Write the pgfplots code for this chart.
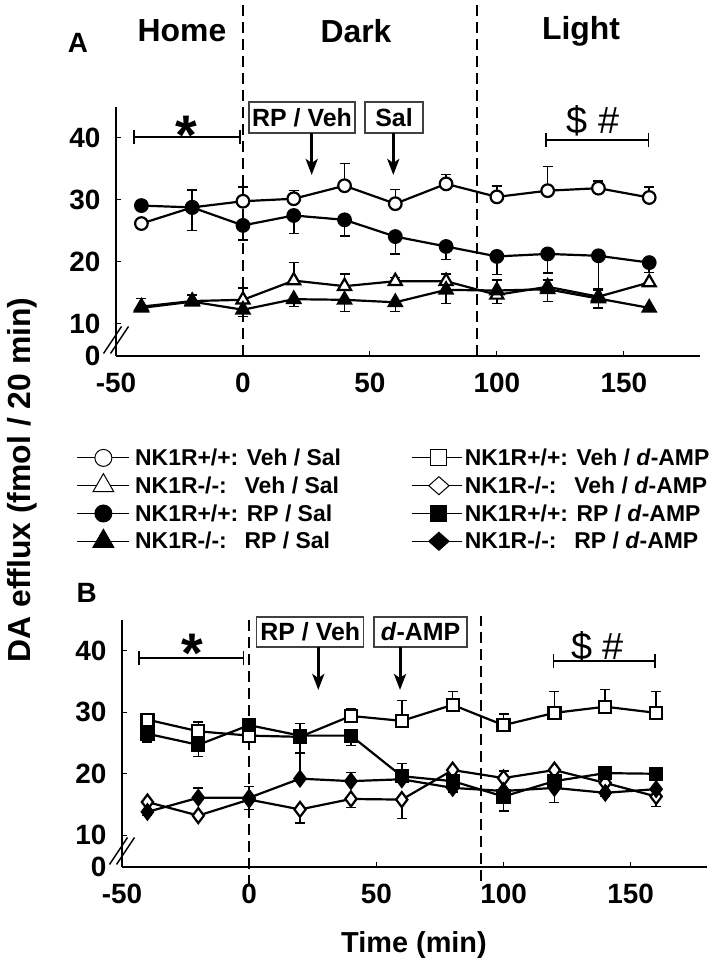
\documentclass[border=0pt]{standalone}
\usepackage{fontspec}
\setmainfont{Liberation Sans}
\usepackage{calc}
\usepackage{pgfplots}
\pgfplotsset{compat=1.18}
\usepackage{pgfplotstable}
\usetikzlibrary{arrows.meta}
\newcommand{\fs}[1]{\fontsize{#1}{#1}\selectfont}

% Panel A
\pgfplotstableread{
x y ep em
-40 26.2 0 0
-20 28.8 0 0
0 29.8 2.3 0
20 30.2 1.3 0
40 32.3 3.6 0
60 29.4 2.3 0
80 32.6 1.5 0
100 30.5 1.8 0
120 31.5 3.9 0
140 31.9 1.2 0
160 30.4 1.7 0
}\AopenC
\pgfplotstableread{
x y ep em
-40 29.1 0 0
-20 28.8 2.8 3.7
0 25.9 0 2.4
20 27.5 0 2.9
40 26.8 0 2.6
60 24.1 0 2.8
80 22.5 0 2.1
100 20.9 0 2.9
120 21.3 0 3.1
140 21.0 0 5.5
160 19.9 0 1.6
}\AfillC
\pgfplotstableread{
x y ep em
-40 12.8 0 0
-20 13.7 1.0 0
0 13.9 1.9 0
20 17.0 2.9 0
40 16.1 2.0 0
60 16.9 0.6 0
80 16.9 1.2 0
100 14.7 0 1.4
120 16.0 0 0
140 14.4 0 0
160 16.7 0 0
}\AopenT
\pgfplotstableread{
x y ep em
-40 12.6 1.5 0
-20 13.6 1.1 0
0 12.3 0 1.1
20 14.0 0 1.2
40 13.9 0 1.9
60 13.5 0 1.5
80 15.5 0 2.2
100 15.4 1.7 0
120 15.6 1.5 2.0
140 14.1 1.5 1.5
160 12.6 0 0
}\AfillT
% Panel B
\pgfplotstableread{
x y ep em
-40 28.8 0.9 0
-20 26.9 1.5 0
0 26.2 0 0
20 26.0 0 0
40 29.4 1.1 0
60 28.6 3.3 0
80 31.2 2.2 0
100 27.9 1.8 0
120 29.9 3.5 0
140 30.9 2.8 0
160 29.9 3.5 0
}\BopenS
\pgfplotstableread{
x y ep em
-40 26.5 0 1.3
-20 24.7 0 1.9
0 27.9 0 0
20 26.2 2.0 2.8
40 26.2 0 1.6
60 19.6 2.1 0
80 18.8 0 0
100 16.3 0 2.4
120 18.8 0 0
140 20.1 0 0
160 20.0 0 0
}\BfillS
\pgfplotstableread{
x y ep em
-40 15.4 0 0
-20 13.2 0 0
0 15.8 0 1.6
20 14.2 0 2.2
40 15.9 0 1.4
60 15.8 0 3.1
80 20.6 0 0
100 19.3 1.1 0
120 20.6 0 0
140 18.5 0 0
160 16.3 0 1.6
}\BopenD
\pgfplotstableread{
x y ep em
-40 13.8 0 0.6
-20 16.1 1.6 0
0 16.1 1.8 0
20 19.2 4.2 0
40 18.8 1.4 0
60 19.1 0 0
80 17.7 0 0.7
100 17.2 0 0
120 17.7 0 2.4
140 16.9 0 0.6
160 17.5 0 0
}\BfillD

\tikzset{dl/.style={dash pattern=on 11bp off 6bp, line width=2bp}}
\pgfplotsset{
  panel/.style={
    scale only axis, anchor=south west,
    xmin=-50, xmax=180, ymin=4.84, ymax=45,
    axis lines=left, axis line style={-, line width=1.4bp},
    xtick={-50,0,50,100,150}, xticklabels={-50,0,50,100,150},
    ytick={10,20,30,40}, yticklabels={10,20,30,40},
    extra y ticks={4.84}, extra y tick labels={0},
    extra y tick style={major tick length=0pt},
    tick align=inside, major tick length=5bp,
    tick style={line width=1bp, black},
    ticklabel style={font=\fs{28}\bfseries},
    xticklabel style={yshift=-14bp},
    yticklabel style={xshift=-12bp},
    clip=false,
    legend style={draw=none, fill=none, inner sep=0pt, row sep=0pt,
      font=\fs{23}\bfseries, anchor=north west,
      nodes={inner sep=0pt, minimum height=27.8bp}},
    legend cell align=left,
  },
  ser/.style={black, line width=2.2bp, mark size=6.3bp,
    mark options={line width=1bp, solid, draw=black}},
  eb/.style={forget plot, only marks, mark=none, black,
    error bars/.cd, y explicit, y dir=#1,
    error bar style={line width=1.6bp, black},
    error mark options={rotate=90, line width=1.6bp, mark size=5bp, black}},
}

\begin{document}
\begin{tikzpicture}[x=1bp, y=1bp]
\useasboundingbox (0,0) rectangle (724,964);

% ---------------- Panel A ----------------
\begin{axis}[panel, at={(116bp,608bp)}, width=584bp, height=249bp,
  legend style={at={(-0.0673,-0.3526)}, column sep=6bp},
  legend image code/.code={\draw[mark repeat=2, mark phase=2, #1]
        plot coordinates {(0bp,0bp) (26bp,0bp) (51.3bp,0bp)};}]
\draw[dl] (axis cs:0,4.84) -- (axis cs:0,62.3);
\draw[dl] (axis cs:92,4.84) -- (axis cs:92,62.3);
\addplot[eb=plus] table[x=x, y=y, y error=ep] {\AopenC};
\addplot[eb=minus] table[x=x, y=y, y error=em] {\AopenC};
\addplot[eb=plus] table[x=x, y=y, y error=ep] {\AfillC};
\addplot[eb=minus] table[x=x, y=y, y error=em] {\AfillC};
\addplot[eb=plus] table[x=x, y=y, y error=ep] {\AopenT};
\addplot[eb=minus] table[x=x, y=y, y error=em] {\AopenT};
\addplot[eb=plus] table[x=x, y=y, y error=ep] {\AfillT};
\addplot[eb=minus] table[x=x, y=y, y error=em] {\AfillT};
\addplot[ser, mark=*, mark options={fill=white},
  legend image post style={line width=1bp, mark size=8.5bp}] table[x=x,y=y] {\AopenC};
\addlegendentry{NK1R+/+: Veh / Sal}
\addplot[ser, mark=triangle*, mark size=7.5bp, mark options={fill=white},
  legend image post style={line width=1bp, mark size=12bp}] table[x=x,y=y] {\AopenT};
\addlegendentry{\makebox[\widthof{NK1R+/+:}][l]{NK1R-/-:} Veh / Sal}
\addplot[ser, mark=*, mark options={fill=black},
  legend image post style={line width=1bp, mark size=8.5bp}] table[x=x,y=y] {\AfillC};
\addlegendentry{NK1R+/+: RP / Sal}
\addplot[ser, mark=triangle*, mark size=7.5bp, mark options={fill=black},
  legend image post style={line width=1bp, mark size=12bp}] table[x=x,y=y] {\AfillT};
\addlegendentry{\makebox[\widthof{NK1R+/+:}][l]{NK1R-/-:} RP / Sal}
\end{axis}

% ---------------- Panel B ----------------
\begin{axis}[panel, at={(122bp,97bp)}, width=585bp, height=247bp,
  legend style={at={(0.4952,1.7134)}, column sep=2bp},
  legend image code/.code={\draw[mark repeat=2, mark phase=2, #1]
        plot coordinates {(0bp,0bp) (26.5bp,0bp) (50bp,0bp)};}]
\draw[dl] (axis cs:0,1.77) -- (axis cs:0,45.6);
\draw[dl] (axis cs:91,2.5) -- (axis cs:91,45.6);
\addplot[eb=plus] table[x=x, y=y, y error=ep] {\BopenS};
\addplot[eb=minus] table[x=x, y=y, y error=em] {\BopenS};
\addplot[eb=plus] table[x=x, y=y, y error=ep] {\BfillS};
\addplot[eb=minus] table[x=x, y=y, y error=em] {\BfillS};
\addplot[eb=plus] table[x=x, y=y, y error=ep] {\BopenD};
\addplot[eb=minus] table[x=x, y=y, y error=em] {\BopenD};
\addplot[eb=plus] table[x=x, y=y, y error=ep] {\BfillD};
\addplot[eb=minus] table[x=x, y=y, y error=em] {\BfillD};
\addplot[ser, mark=square*, mark size=6bp, mark options={fill=white},
  legend image post style={line width=1bp, mark size=8bp}] table[x=x,y=y] {\BopenS};
\addlegendentry{NK1R+/+: Veh / \textit{d}-AMP}
\addplot[ser, mark=diamond*, mark size=7.5bp, mark options={fill=white},
  legend image post style={line width=1bp, mark size=9bp,
    mark options={fill=white, draw=black, line width=1bp, solid, xscale=1.5}}] table[x=x,y=y] {\BopenD};
\addlegendentry{\makebox[\widthof{NK1R+/+:}][l]{NK1R-/-:} Veh / \textit{d}-AMP}
\addplot[ser, mark=square*, mark size=6bp, mark options={fill=black},
  legend image post style={line width=1bp, mark size=8bp}] table[x=x,y=y] {\BfillS};
\addlegendentry{NK1R+/+: RP / \textit{d}-AMP}
\addplot[ser, mark=diamond*, mark size=7.5bp, mark options={fill=black},
  legend image post style={line width=1bp, mark size=9bp,
    mark options={fill=black, draw=black, line width=1bp, solid, xscale=1.5}}] table[x=x,y=y] {\BfillD};
\addlegendentry{\makebox[\widthof{NK1R+/+:}][l]{NK1R-/-:} RP / \textit{d}-AMP}
\end{axis}

% ---------------- Decorations ----------------
\draw[line width=1.4bp] (103.5,610.5) -- (121.5,637.5);
\draw[line width=1.4bp] (110.5,610.5) -- (128.5,637.5);
\draw[line width=1.4bp] (109.5,99.5) -- (127.5,126.5);
\draw[line width=1.4bp] (116.5,99.5) -- (134.5,126.5);
% headings
\node[font=\fs{32}\bfseries] at (182,933) {Home};
\node[font=\fs{32}\bfseries] at (356,933) {Dark};
\node[font=\fs{32}\bfseries] at (581,933) {Light};
\node[font=\fs{28}\bfseries] at (78,921) {A};
\node[font=\fs{28}\bfseries] at (86.7,371) {B};
\node[font=\fs{29}\bfseries] at (414,19) {Time (min)};
\node[font=\fs{32}\bfseries, rotate=90] at (22,484) {DA efflux (fmol / 20 min)};

% boxes and arrows, panel A
\node[draw=black!75, line width=1.3bp, minimum width=106bp, minimum height=31bp, inner sep=0pt, font=\fs{25}\bfseries] at (302,846.6) {RP / Veh};
\node[draw=black!75, line width=1.3bp, minimum width=58bp, minimum height=31bp, inner sep=0pt, font=\fs{25}\bfseries] at (394,846.6) {Sal};
\draw[line width=3bp, -{Stealth[length=16bp, width=12bp, inset=4bp]}] (311.7,831) -- (311.7,789);
\draw[line width=3bp, -{Stealth[length=16bp, width=12bp, inset=4bp]}] (393.3,831) -- (393.3,789);
% boxes and arrows, panel B
\node[draw=black!75, line width=1.3bp, minimum width=107bp, minimum height=30bp, inner sep=0pt, font=\fs{25}\bfseries] at (310.3,332) {RP / Veh};
\node[draw=black!75, line width=1.3bp, minimum width=93bp, minimum height=30bp, inner sep=0pt, font=\fs{25}\bfseries] at (420.5,332) {\textit{d}-AMP};
\draw[line width=3bp, -{Stealth[length=16bp, width=12bp, inset=4bp]}] (318.3,317) -- (318.3,274);
\draw[line width=3bp, -{Stealth[length=16bp, width=12bp, inset=4bp]}] (400,317) -- (400,274);

% significance brackets
\draw[line width=1.6bp] (134,826.7) -- (240,826.7);
\draw[line width=1.6bp] (134,819.7) -- (134,833.7);
\draw[line width=1.6bp] (240,819.7) -- (240,833.7);
\draw[line width=1.6bp] (545.7,824) -- (648.3,824);
\draw[line width=1.6bp] (545.7,817) -- (545.7,831);
\draw[line width=1.6bp] (648.3,817) -- (648.3,831);
\draw[line width=1.6bp] (138.7,305.7) -- (243.3,305.7);
\draw[line width=1.6bp] (138.7,298.7) -- (138.7,312.7);
\draw[line width=1.6bp] (243.3,298.7) -- (243.3,312.7);
\draw[line width=1.6bp] (553.3,303) -- (655,303);
\draw[line width=1.6bp] (553.3,296) -- (553.3,310);
\draw[line width=1.6bp] (655,296) -- (655,310);
\node[font=\fs{56}\bfseries, anchor=base, inner sep=0pt] at (186.7,809.8) {*};
\node[font=\fs{56}\bfseries, anchor=base, inner sep=0pt] at (192.7,291.5) {*};
\node[font=\fs{38}, inner sep=0pt] at (593,843) {\$ \#};
\node[font=\fs{38}, inner sep=0pt] at (597.7,317.5) {\$ \#};
\end{tikzpicture}
\end{document}
